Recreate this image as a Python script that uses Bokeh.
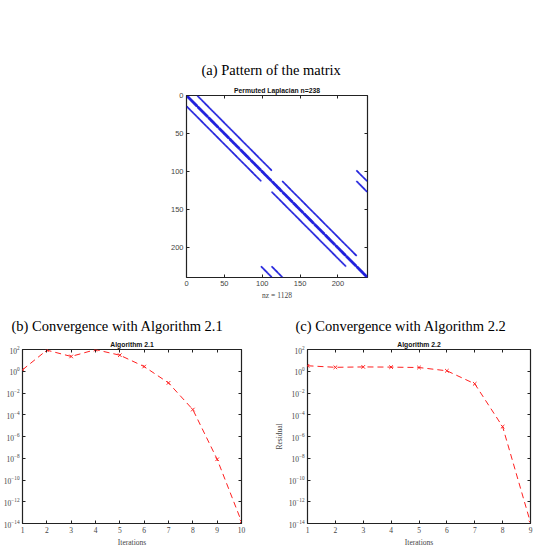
from bokeh.plotting import figure
from bokeh.layouts import column, row
from bokeh.models import (Range1d, FixedTicker, LinearAxis, LogAxis, Title,
                          CustomJSTickFormatter, ColumnDataSource)
from bokeh.embed import file_html
from bokeh.resources import INLINE

# ---------------- data ----------------
n = 238
nz_label = "nz = 1128"
block_size = 14
n_blocks = 17
# off-diagonal coupling bands (0-based start row, start col, length)
band_row = [0, 14, 112, 126, 98, 224, 112, 224]
band_col = [14, 0, 126, 112, 224, 98, 224, 112]
band_len = [98, 98, 98, 98, 14, 14, 14, 14]
spy_ticks = [0, 50, 100, 150, 200]

iter_b = [1, 2, 3, 4, 5, 6, 7, 8, 9, 10]
res_b = [1.35, 87, 23, 97, 30, 2.7, 0.085, 3e-4, 8e-9, 1.5e-14]
iter_c = [1, 2, 3, 4, 5, 6, 7, 8, 9]
res_c = [3.2, 2.3, 2.5, 2.4, 2.2, 1.1, 0.07, 8e-6, 1.2e-14]
log_ticks = [1e-14, 1e-12, 1e-10, 1e-8, 1e-6, 1e-4, 1e-2, 1e0, 1e2]

# build nonzero pattern
rows, cols = [], []
for i in range(n):
    rows.append(i); cols.append(i)
for b in range(n_blocks):
    for k in range(block_size - 1):
        i = b * block_size + k
        rows += [i, i + 1]; cols += [i + 1, i]
for r0, c0, L in zip(band_row, band_col, band_len):
    for k in range(L):
        rows.append(r0 + k); cols.append(c0 + k)
spy_src = ColumnDataSource(dict(x=[c + 1 for c in cols], y=[r + 1 for r in rows]))

SERIF = "Liberation Serif"
SANS = "Liberation Sans"
TICKCOL = "#444444"
empty_fmt = "return ''"


def style(p, tick_font, tick_size):
    p.grid.visible = False
    p.outline_line_color = "#222222"
    p.outline_line_width = 1.2
    p.background_fill_color = "white"
    p.border_fill_color = "white"
    for ax in p.axis:
        ax.axis_line_color = None
        ax.major_tick_in = 3
        ax.major_tick_out = 0
        ax.minor_tick_in = 0
        ax.minor_tick_out = 0
        ax.major_tick_line_color = "#222222"
        ax.major_label_text_font = tick_font
        ax.major_label_text_font_size = tick_size
        ax.major_label_text_color = TICKCOL
        ax.major_label_standoff = 3
        ax.axis_label_text_font = SERIF
        ax.axis_label_text_font_style = "normal"
        ax.axis_label_text_color = TICKCOL
        ax.axis_label_text_font_size = "7.5px"
        ax.axis_label_standoff = 2


def add_box_axes(p, ticker_x, ticker_y, log_y=False):
    top = LinearAxis(ticker=ticker_x, formatter=CustomJSTickFormatter(code=empty_fmt),
                     major_label_standoff=0)
    right = (LogAxis if log_y else LinearAxis)(ticker=ticker_y,
                                               formatter=CustomJSTickFormatter(code=empty_fmt),
                                               major_label_standoff=0)
    p.add_layout(top, "above")
    p.add_layout(right, "right")
    return top, right


def add_titles(p, plot_title, caption, cap_offset, cap_standoff):
    p.add_layout(Title(text=plot_title, align="center", text_font=SANS,
                       text_font_size="6.8px", text_font_style="bold",
                       text_color="#111111", standoff=3), "above")
    p.add_layout(Title(text=caption, align="left", offset=cap_offset, text_font=SERIF,
                       text_font_size="14.5px", text_font_style="normal",
                       text_color="black", standoff=cap_standoff), "above")


# ---------------- (a) spy ----------------
pa = figure(width=542, height=305, output_backend="svg", toolbar_location=None,
            title=None, x_range=Range1d(0, n + 1), y_range=Range1d(n + 1, 0),
            min_border_left=186, min_border_right=175, min_border_top=95,
            min_border_bottom=28)
pa.scatter("x", "y", source=spy_src, marker="circle", size=1.6,
           fill_color="#2222dd", line_color="#2222dd", line_width=0.2)
pa.xaxis.ticker = FixedTicker(ticks=spy_ticks)
pa.yaxis.ticker = FixedTicker(ticks=spy_ticks)
pa.xaxis.axis_label = nz_label
add_box_axes(pa, FixedTicker(ticks=spy_ticks), FixedTicker(ticks=spy_ticks))
style(pa, SANS, "7.5px")
add_titles(pa, "Permuted Laplacian n=238", "(a) Pattern of the matrix", 15, 11)


def conv_fig(x, y, left, right, title, caption, cap_offset, ylabel=None):
    p = figure(width=271, height=249, output_backend="svg", toolbar_location=None,
               title=None, y_axis_type="log",
               x_range=Range1d(x[0], x[-1]), y_range=Range1d(1e-14, 1e2),
               min_border_left=left, min_border_right=right, min_border_top=44,
               min_border_bottom=31)
    p.line(x, y, line_color="#ff2020", line_width=1, line_dash="6 4")
    p.scatter(x, y, marker="x", size=5, line_color="#ff2020", line_width=1)
    p.xaxis.ticker = FixedTicker(ticks=x)
    p.yaxis.ticker = FixedTicker(ticks=log_ticks)
    p.xaxis.axis_label = "Iterations"
    if ylabel:
        p.yaxis.axis_label = ylabel
    add_box_axes(p, FixedTicker(ticks=x), FixedTicker(ticks=log_ticks), log_y=True)
    style(p, SERIF, "7.5px")
    add_titles(p, title, caption, cap_offset, 7)
    return p


pb = conv_fig(iter_b, res_b, 19, 30, "Algorithm 2.1",
              "(b) Convergence with Algorithm 2.1", -11)
pc = conv_fig(iter_c, res_c, 36, 12, "Algorithm 2.2",
              "(c) Convergence with Algorithm 2.2", -12, ylabel="Residual")

layout = column(pa, row(pb, pc))
open("out.html", "w").write(file_html(layout, INLINE))
